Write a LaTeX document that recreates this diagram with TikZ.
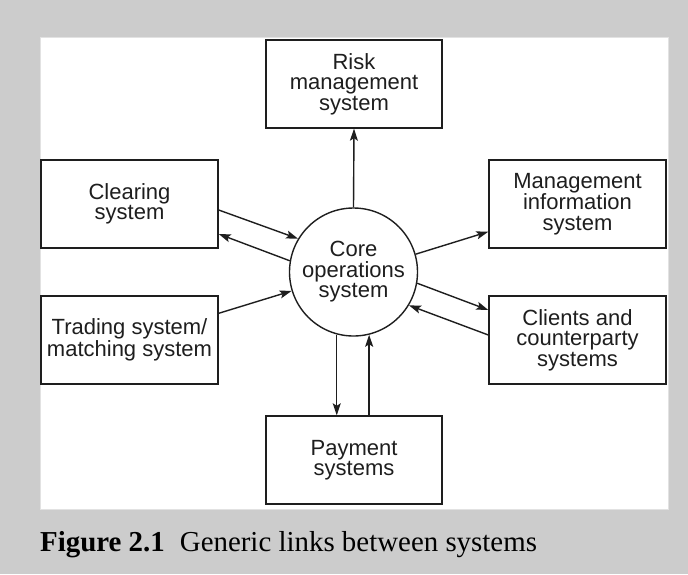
\documentclass[tikz,border=0pt]{standalone}
\usepackage{fontspec}
\setmainfont{Liberation Serif}
\newfontfamily\boxfont{Liberation Sans}
\usetikzlibrary{calc,arrows.meta}
\definecolor{pagegray}{HTML}{CCCCCC}
\definecolor{panelrule}{HTML}{E2E2E2}
\definecolor{ink}{HTML}{1E1E1E}
\tikzset{
  sysbox/.style={draw=ink, line width=1.4pt, fill=white, minimum width=177pt,
    minimum height=88pt, inner sep=0pt, align=center, text=ink,
    font=\boxfont\fontsize{22}{20.5}\selectfont},
  hub/.style={draw=ink, line width=1.4pt, fill=white, circle, minimum size=128pt,
    inner sep=0pt, align=center, text=ink,
    font=\boxfont\fontsize{22}{20.5}\selectfont},
  link/.style={draw=ink, line width=1.4pt,
    -{Stealth[length=12pt,width=8pt,inset=2.5pt]}},
}
\begin{document}
\begin{tikzpicture}[x=1pt,y=-1pt]
  % page and white panel
  \fill[pagegray] (0,0) rectangle (688,574);
  \useasboundingbox (0,0) rectangle (688,574);
  \filldraw[fill=white, draw=panelrule, line width=1pt] (40,37) rectangle (668,509);

  % systems
  \node[sysbox, minimum width=176pt] (risk) at (354,84) {Risk\\management\\system};
  \node[sysbox, minimum width=176pt] (pay) at (354,460) {Payment\\systems};
  \node[sysbox] (clr) at (129.5,204) {Clearing\\system};
  \node[sysbox] (trd) at (129.5,340) {Trading system/\\matching system};
  \node[sysbox] (mis) at (577.5,204) {Management\\information\\system};
  \node[sysbox] (cli) at (577.5,340) {Clients and\\counterparty\\systems};
  \node[hub] (core) at (353.5,272) {Core\\operations\\system};

  % links
  \draw[link] (core.north) -- (risk.south);
  \draw[link] ($(clr.east)+(0,6)$) -- (core.149.8);
  \draw[link] (core.170.2) -- ($(clr.east)+(0,30)$);
  \draw[link] ($(trd.east)+(0,-26.7)$) -- (core.197.5);
  \draw[link] (core.16.7) -- ($(mis.west)+(0,27.7)$);
  \draw[link] (core.-10.9) -- ($(cli.west)+(0,-30)$);
  \draw[link] ($(cli.west)+(0,-5)$) -- (core.-31);
  \draw[link] (core.255.7) -- (core.255.7 |- pay.north);
  \draw[link] (core.284.3 |- pay.north) -- (core.284.3);

  % caption
  \node[anchor=base west, inner sep=0pt, text=black,
        font=\fontsize{28.9}{30}\selectfont] (cap) at (40,551)
    {\textbf{Figure 2.1}\hspace{15pt}Generic links between systems};
\end{tikzpicture}
\end{document}
